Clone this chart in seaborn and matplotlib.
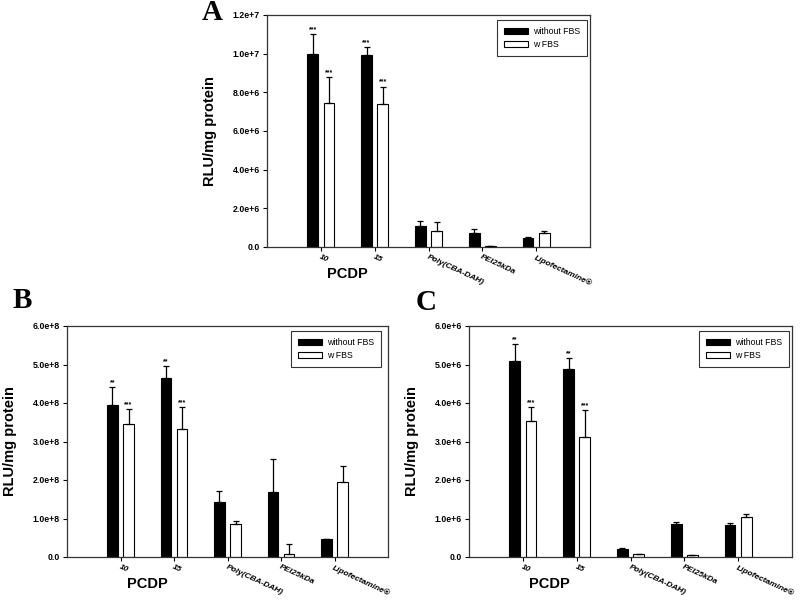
import numpy as np
import pandas as pd
import matplotlib
matplotlib.use('Agg')
import matplotlib.pyplot as plt
from matplotlib.patches import Patch
from matplotlib.ticker import FuncFormatter, MultipleLocator
import seaborn as sns

# Grupos y condiciones
groups = ['10', '15', 'Poly(CBA-DAH)', 'PEI25kDa', 'Lipofectamine®']
conditions = ['without FBS', 'w FBS']

# Panel A
a_without = [1.00e7, 9.94e6, 1.07e6, 0.75e6, 0.45e6]
a_without_err = [1.0e6, 0.42e6, 0.28e6, 0.17e6, 0.08e6]
a_wfbs = [7.47e6, 7.38e6, 0.83e6, 0.05e6, 0.74e6]
a_wfbs_err = [1.30e6, 0.92e6, 0.48e6, 0.02e6, 0.08e6]
a_stars_without = ['***', '***', '', '', '']
a_stars_wfbs = ['***', '***', '', '', '']

# Panel B
b_without = [3.94e8, 4.65e8, 1.44e8, 1.69e8, 0.47e8]
b_without_err = [0.48e8, 0.30e8, 0.28e8, 0.85e8, 0.01e8]
b_wfbs = [3.45e8, 3.32e8, 0.85e8, 0.09e8, 1.95e8]
b_wfbs_err = [0.39e8, 0.57e8, 0.09e8, 0.26e8, 0.42e8]
b_stars_without = ['**', '**', '', '', '']
b_stars_wfbs = ['***', '***', '', '', '']

# Panel C
c_without = [5.10e6, 4.88e6, 0.22e6, 0.85e6, 0.82e6]
c_without_err = [0.42e6, 0.28e6, 0.02e6, 0.07e6, 0.07e6]
c_wfbs = [3.54e6, 3.11e6, 0.07e6, 0.05e6, 1.04e6]
c_wfbs_err = [0.35e6, 0.70e6, 0.0, 0.0, 0.07e6]
c_stars_without = ['**', '**', '', '', '']
c_stars_wfbs = ['***', '***', '', '', '']

sns.set_style('ticks')
plt.rcParams['font.family'] = ['Liberation Sans', 'DejaVu Sans']
plt.rcParams['text.color'] = 'black'
plt.rcParams['xtick.color'] = 'black'
plt.rcParams['ytick.color'] = 'black'
plt.rcParams['axes.labelcolor'] = 'black'


def sci_fmt(v, pos):
    if abs(v) < 1e-9:
        return '0.0'
    m, e = f'{v:.1e}'.split('e')
    return f'{m}e+{int(e)}'


def draw_panel(ax, without, without_err, wfbs, wfbs_err, st_without, st_wfbs,
               ymax, ystep, leg_anchor):
    df = pd.DataFrame({
        'grupo': groups * 2,
        'cond': [conditions[0]] * len(groups) + [conditions[1]] * len(groups),
        'valor': list(without) + list(wfbs),
    })
    sns.barplot(data=df, x='grupo', y='valor', hue='cond', order=groups,
                hue_order=conditions,
                palette={conditions[0]: 'black', conditions[1]: 'white'},
                edgecolor='black', linewidth=0.8, width=0.6, gap=1 / 3,
                errorbar=None, legend=False, ax=ax)

    errs = [without_err, wfbs_err]
    stars = [st_without, st_wfbs]
    bar_conts = list(ax.containers)
    for i, cont in enumerate(bar_conts):
        for j, bar in enumerate(cont.patches):
            x = bar.get_x() + bar.get_width() / 2
            h = bar.get_height()
            e = errs[i][j]
            ax.errorbar(x, h, yerr=[[0], [e]], fmt='none', ecolor='black',
                        elinewidth=0.9, capsize=2.5, capthick=0.9, zorder=3)
            if stars[i][j]:
                ax.text(x, h + e + ymax * 0.004, stars[i][j], ha='center',
                        va='bottom', fontsize=5, fontweight='bold')

    ax.set_xlim(-1, 5)
    ax.set_ylim(0, ymax)
    ax.yaxis.set_major_locator(MultipleLocator(ystep))
    ax.yaxis.set_major_formatter(FuncFormatter(sci_fmt))
    ax.tick_params(axis='y', labelsize=6.3, direction='out', length=3,
                   width=0.8, pad=2)
    ax.tick_params(axis='x', direction='out', length=3, width=0.8, pad=2)
    for t in ax.get_yticklabels():
        t.set_fontweight('bold')
    ax.set_xticks(range(len(groups)))
    ax.set_xticklabels(groups, rotation=-25, ha='left', rotation_mode='anchor',
                       fontsize=6, fontstyle='italic', fontweight='bold')
    ax.set_xlabel('')
    ax.set_ylabel('RLU/mg protein', fontsize=10.5, fontweight='bold')
    ax.yaxis.set_label_coords(-0.155, 0.5)
    for sp in ax.spines.values():
        sp.set_visible(True)
        sp.set_linewidth(0.9)
        sp.set_color('#333333')

    trans = matplotlib.transforms.blended_transform_factory(ax.transData,
                                                            ax.transAxes)
    ax.text(0.5, -0.115, 'PCDP', transform=trans, ha='center', va='center',
            fontsize=10.5, fontweight='bold')

    handles = [Patch(facecolor='black', edgecolor='black', linewidth=0.8),
               Patch(facecolor='white', edgecolor='black', linewidth=0.8)]
    leg = ax.legend(handles, conditions, loc='upper right',
                    bbox_to_anchor=leg_anchor, borderaxespad=0, fontsize=6.3,
                    frameon=True, fancybox=False, handlelength=2.7,
                    handleheight=0.8, handletextpad=0.6, labelspacing=0.45,
                    borderpad=0.8)
    leg.get_frame().set_edgecolor('black')
    leg.get_frame().set_linewidth(0.8)


fig = plt.figure(figsize=(8, 6.05), dpi=100)
ax_a = fig.add_axes([267 / 800, 1 - 247 / 605, 323 / 800, 232 / 605])
ax_b = fig.add_axes([67 / 800, 1 - 557 / 605, 321 / 800, 231 / 605])
ax_c = fig.add_axes([469 / 800, 1 - 557 / 605, 323 / 800, 231 / 605])

draw_panel(ax_a, a_without, a_without_err, a_wfbs, a_wfbs_err,
           a_stars_without, a_stars_wfbs, 1.2e7, 2e6, (0.991, 0.978))
draw_panel(ax_b, b_without, b_without_err, b_wfbs, b_wfbs_err,
           b_stars_without, b_stars_wfbs, 6e8, 1e8, (0.978, 0.978))
draw_panel(ax_c, c_without, c_without_err, c_wfbs, c_wfbs_err,
           c_stars_without, c_stars_wfbs, 6e6, 1e6, (0.991, 0.978))

# Letras de panel
for lbl, x, y in [('A', 212, 13), ('B', 22, 300), ('C', 426, 302)]:
    fig.text(x / 800, 1 - y / 605, lbl, ha='center', va='center', fontsize=21,
             fontweight='bold', family=['Liberation Serif', 'DejaVu Serif'])

fig.savefig('out.png', dpi=100)
